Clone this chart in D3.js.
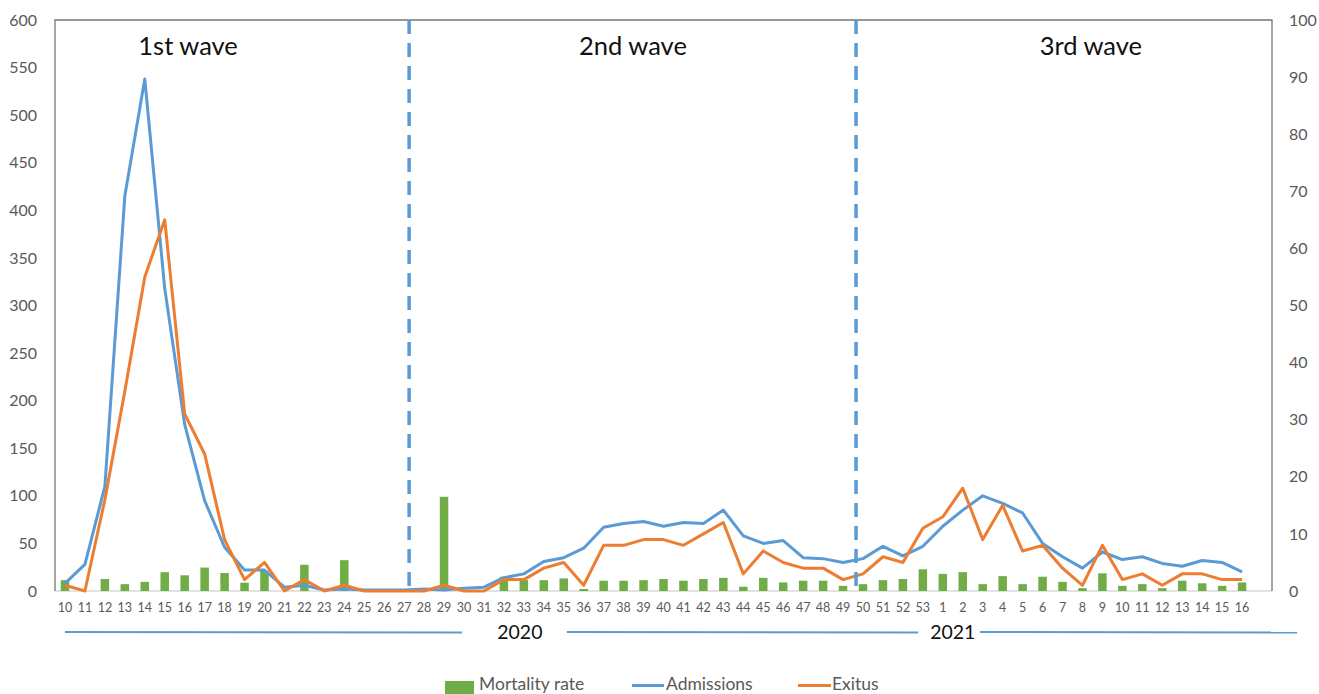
<!DOCTYPE html>
<html>
<head>
<meta charset="utf-8">
<script src="https://cdn.jsdelivr.net/npm/d3@7/dist/d3.min.js"></script>
<style>
  html, body { margin: 0; padding: 0; background: #fff; }
  svg { display: block; font-family: Lato, "Open Sans", sans-serif; }
</style>
</head>
<body>
<svg id="chart" width="1319" height="694"></svg>
<script>
// ---- data ----
const weeks = [10,11,12,13,14,15,16,17,18,19,20,21,22,23,24,25,26,27,28,29,30,31,32,33,34,35,36,37,38,39,40,41,42,43,44,45,46,47,48,49,50,51,52,53,
               1,2,3,4,5,6,7,8,9,10,11,12,13,14,15,16];
const years = [2020,2020,2020,2020,2020,2020,2020,2020,2020,2020,2020,2020,2020,2020,2020,2020,2020,2020,2020,2020,2020,2020,2020,2020,2020,2020,2020,2020,2020,2020,2020,2020,2020,2020,2020,2020,2020,2020,2020,2020,2020,2020,2020,2020,
               2021,2021,2021,2021,2021,2021,2021,2021,2021,2021,2021,2021,2021,2021,2021,2021];
const admissions = [8,28,110,415,538,318,175,95,46,22,22,4,6,1,2,1,1,1,2,1,3,4,14,18,31,35,45,67,71,73,68,72,71,85,58,50,53,35,34,30,34,47,37,47,
                    68,85,100,92,82,50,36,24,41,33,36,29,26,32,30,20];
// exitus read against the right-hand axis
const exitus = [1,0,16,35,55,65,31,24,9,2,5,0,2,0,1,0,0,0,0,1,0,0,2,2,4,5,1,8,8,9,9,8,10,12,3,7,5,4,4,2,3,6,5,11,
                13,18,9,15,7,8,4,1,8,2,3,1,3,3,2,2];
const mortality = [1.9,0,2.1,1.2,1.6,3.3,2.75,4.1,3.15,1.45,3.5,0,4.6,0,5.4,0,0,0,0,16.5,0,0,2.5,1.9,1.9,2.2,0.35,1.8,1.8,1.9,2.1,1.8,2.1,2.3,0.75,2.3,1.5,1.8,1.8,0.9,1.2,1.9,2.1,3.8,
                   3.0,3.3,1.2,2.6,1.2,2.5,1.6,0.5,3.1,0.9,1.2,0.5,1.8,1.35,0.9,1.5];
const leftTicks = [0,50,100,150,200,250,300,350,400,450,500,550,600];
const rightTicks = [0,10,20,30,40,50,60,70,80,90,100];
const waveLabels = ["1st wave","2nd wave","3rd wave"];
const yearLabels = ["2020","2021"];
const seriesNames = ["Mortality rate","Admissions","Exitus"];

// ---- layout ----
const L = 55, R = 1272, T = 20, B = 591;
const keys = weeks.map((w,i) => years[i] + "-" + w);
const slots = keys.concat(["_spare"]);
const x = d3.scaleBand().domain(slots).range([L, R]).padding(0);
const step = x.step();
const xi = d3.scaleLinear().domain([0, slots.length]).range([L, R]); // fractional slot position
const yL = d3.scaleLinear().domain([0, 600]).range([B, T]);
const yR = d3.scaleLinear().domain([0, 100]).range([B, T]);
const cx = k => x(k) + step / 2;

const svg = d3.select("#chart");
const BLUE = "#5B9BD5", ORANGE = "#ED7D31", GREEN = "#70AD47", GREY = "#595959";

// frame
svg.append("line").attr("x1", L).attr("x2", R).attr("y1", B).attr("y2", B).attr("stroke", "#d9d9d9").attr("stroke-width", 1.5);
svg.append("path").attr("d", `M${L},${B}V${T}H${R}V${B}`).attr("fill", "none").attr("stroke", "#767676").attr("stroke-width", 1.3);

// left axis
const gl = svg.append("g").attr("transform", `translate(${L},0)`)
  .call(d3.axisLeft(yL).tickValues(leftTicks).tickSize(0).tickPadding(18));
gl.select(".domain").remove();
gl.selectAll("text").attr("font-size", 16).attr("fill", GREY).attr("font-family", "Lato");
// right axis
const gr = svg.append("g").attr("transform", `translate(${R},0)`)
  .call(d3.axisRight(yR).tickValues(rightTicks).tickSize(0).tickPadding(17));
gr.select(".domain").remove();
gr.selectAll("text").attr("font-size", 16).attr("fill", GREY).attr("font-family", "Lato");

// x axis labels
const gx = svg.append("g").attr("transform", `translate(0,${B})`)
  .call(d3.axisBottom(x).tickValues(keys).tickFormat((k,i) => weeks[i]).tickSize(0).tickPadding(12));
gx.select(".domain").remove();
gx.selectAll("text").attr("font-size", 12.5).attr("fill", GREY).attr("font-family", "Lato");

// bars
const bw = 8.5;
svg.append("g").selectAll("rect").data(mortality).join("rect")
  .attr("x", (d,i) => cx(keys[i]) - bw/2)
  .attr("width", bw)
  .attr("y", d => yR(d))
  .attr("height", d => B - yR(d))
  .attr("fill", GREEN);

// lines
const lineL = d3.line().x((d,i) => cx(keys[i])).y(d => yL(d));
const lineR = d3.line().x((d,i) => cx(keys[i])).y(d => yR(d));
svg.append("path").datum(admissions).attr("d", lineL).attr("fill","none").attr("stroke", BLUE).attr("stroke-width", 3).attr("stroke-linejoin","round");
svg.append("path").datum(exitus).attr("d", lineR).attr("fill","none").attr("stroke", ORANGE).attr("stroke-width", 3).attr("stroke-linejoin","round");

// wave dividers
[17.75, 40.15].forEach(p => {
  svg.append("line").attr("x1", xi(p)).attr("x2", xi(p)).attr("y1", T).attr("y2", B)
    .attr("stroke", BLUE).attr("stroke-width", 3.5).attr("stroke-dasharray", "14,9");
});

// wave labels
[6.67, 28.97, 51.92].forEach((p, i) => {
  svg.append("text").attr("x", xi(p)).attr("y", 55).attr("text-anchor", "middle")
    .attr("font-size", 25.5).attr("fill", "#111").text(waveLabels[i]);
});

// year bracket lines
const yearY = 632;
[[0.5, 20.4], [25.66, 43.26], [46.37, 62.26]].forEach(s => {
  svg.append("line").attr("x1", xi(s[0])).attr("x2", xi(s[1])).attr("y1", yearY).attr("y2", yearY + 0.5)
    .attr("stroke", BLUE).attr("stroke-width", 2);
});
[23.3, 45.0].forEach((p, i) => {
  svg.append("text").attr("x", xi(p)).attr("y", yearY + 7).attr("text-anchor", "middle")
    .attr("font-size", 19.5).attr("fill", "#111").text(yearLabels[i]);
});

// legend
const lg = svg.append("g");
lg.append("rect").attr("x", 445).attr("y", 681).attr("width", 29).attr("height", 13).attr("fill", GREEN);
lg.append("text").attr("x", 479).attr("y", 690).attr("font-size", 17.5).attr("fill", GREY).text(seriesNames[0]);
lg.append("line").attr("x1", 632).attr("x2", 664).attr("y1", 685.5).attr("y2", 685.5).attr("stroke", BLUE).attr("stroke-width", 3);
lg.append("text").attr("x", 666).attr("y", 690).attr("font-size", 17.5).attr("fill", GREY).text(seriesNames[1]);
lg.append("line").attr("x1", 798).attr("x2", 831).attr("y1", 685.5).attr("y2", 685.5).attr("stroke", ORANGE).attr("stroke-width", 3);
lg.append("text").attr("x", 832).attr("y", 690).attr("font-size", 17.5).attr("fill", GREY).text(seriesNames[2]);
</script>
</body>
</html>
